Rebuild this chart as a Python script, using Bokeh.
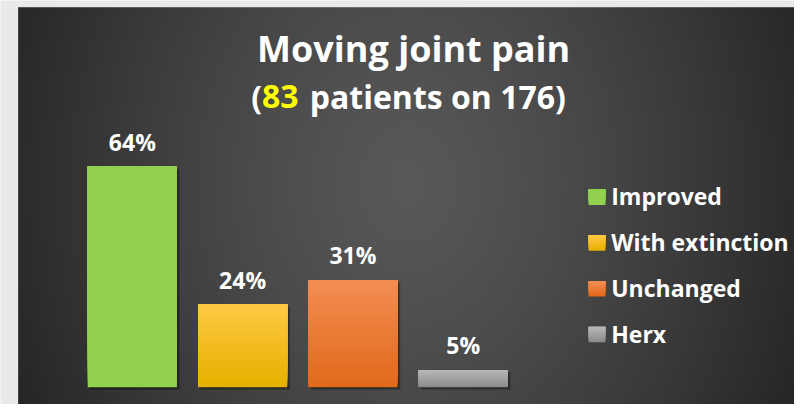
import numpy as np
from bokeh.plotting import figure
from bokeh.models import Range1d
from bokeh.core.properties import value
from bokeh.embed import file_html
from bokeh.resources import INLINE

# ---- data ----
categories = ["Improved", "With extinction", "Unchanged", "Herx"]
percentages = [64, 24, 31, 5]
value_labels = ["64%", "24%", "31%", "5%"]
title_text = "Moving joint pain"
subtitle_open = "("
subtitle_count = "83"
subtitle_rest = "patients on 176)"

# ---- styles ----
top_colors = ["#92d050", "#ffc843", "#f28d52", "#b7b7b7"]
bottom_colors = ["#92d050", "#e6b000", "#e2691a", "#8c8c8c"]
FONT = "Open Sans"

W, H = 794, 404
REF_W, REF_H = 810, 420   # layout designed in reference pixel space
PX_X = 112.5     # ref px per category step
PX_Y = 3.58      # ref px per percent
X0 = 134.5       # ref x of first bar centre
Y0 = 402         # ref y of bar baseline
SC = H / REF_H


def X(px):
    return (px - X0) / PX_X


def Y(py):
    return (Y0 - py) / PX_Y


def hex2rgb(h):
    h = h.lstrip("#")
    return np.array([int(h[i:i + 2], 16) for i in (0, 2, 4)], dtype=float)


def rgb2hex(c):
    c = np.clip(np.round(c), 0, 255).astype(int)
    return "#%02x%02x%02x" % tuple(c)


p = figure(width=W, height=H, output_backend="svg", toolbar_location=None,
           x_range=Range1d(X(0), X(REF_W)), y_range=Range1d(Y(REF_H), Y(0)),
           x_axis_type=None, y_axis_type=None, min_border=0)
p.outline_line_color = None
p.grid.visible = False
p.border_fill_color = "#e9e9e9"
p.background_fill_color = "#e9e9e9"

# ---- dark radial-gradient panel ----
left_ref, top_ref = 18, 7
bw, bh = REF_W - left_ref, REF_H - top_ref
xs = np.arange(bw) + left_ref + 0.5
ys = REF_H - np.arange(bh) - 0.5
gx, gy = np.meshgrid(xs, ys)
t = np.sqrt(((gx - 415) / 440.0) ** 2 + ((gy - 190) / 560.0) ** 2)
t = np.clip(t, 0, 1) ** 1.3
c = (0x58 - (0x58 - 0x25) * t).astype(np.uint8)
img = np.empty((bh, bw), dtype=np.uint32)
view = img.view(dtype=np.uint8).reshape((bh, bw, 4))
view[:, :, 0] = c
view[:, :, 1] = c
view[:, :, 2] = c
view[:, :, 3] = 255
p.image_rgba(image=[img], x=X(left_ref), y=Y(REF_H), dw=bw / PX_X, dh=bh / PX_Y)

# ---- bars ----
idx = np.arange(len(categories), dtype=float)
vals = np.array(percentages, dtype=float)
half = 91 / PX_X / 2

# soft shadow
for off, alpha in ((3, 0.18), (2, 0.25)):
    p.quad(left=idx - half + off / PX_X, right=idx + half + off / PX_X,
           bottom=np.full_like(vals, -off / PX_Y), top=vals - off / PX_Y,
           fill_color="black", fill_alpha=alpha, line_color=None)

# gradient fill: overlapping layers, each from its start up to the bar top
N = 40
for i, v in enumerate(vals):
    fr = np.arange(N) / (N - 1)
    ct, cb = hex2rgb(top_colors[i]), hex2rgb(bottom_colors[i])
    cols = [rgb2hex(cb + (ct - cb) * f) for f in fr]
    bottoms = v * np.arange(N) / N
    p.quad(left=np.full(N, idx[i] - half), right=np.full(N, idx[i] + half),
           bottom=bottoms, top=np.full(N, v), fill_color=cols, line_color=None)

# value labels
p.text(x=idx, y=vals, text=value_labels, y_offset=-26 * SC,
       text_align="center", text_baseline="middle",
       text_font=value(FONT), text_font_style="bold", text_font_size="23px",
       text_color="white")

# ---- title ----
p.text(x=[X(421.5)], y=[Y(50)], text=[title_text], text_align="center",
       text_baseline="middle", text_font=value(FONT), text_font_style="bold",
       text_font_size="36px", text_color="white")

fs = 32
gap = 0.32 * fs / SC
total_w = (0.33 + 1.144 + 8.2) * fs / SC + gap
start = 422 - total_w / 2
count_left = start + 0.33 * fs / SC
count_w = 1.144 * fs / SC
sub_y = Y(100)
p.text(x=[X(count_left)], y=[sub_y], text=[subtitle_open], text_align="right",
       text_baseline="middle", text_font=value(FONT), text_font_style="bold",
       text_font_size=f"{fs}px", text_color="white")
p.text(x=[X(count_left)], y=[sub_y], text=[subtitle_count], text_align="left",
       text_baseline="middle", text_font=value(FONT), text_font_style="bold",
       text_font_size=f"{fs}px", text_color="#ffff00")
p.text(x=[X(count_left + count_w + gap)], y=[sub_y], text=[subtitle_rest], text_align="left",
       text_baseline="middle", text_font=value(FONT), text_font_style="bold",
       text_font_size=f"{fs}px", text_color="white")

# ---- legend ----
leg_x0, leg_sq = 600, 16
leg_y0, leg_step = 204.5, 47.6
M = 10
for i, name in enumerate(categories):
    cy = leg_y0 + i * leg_step
    fr = np.arange(M) / (M - 1)
    ct, cb = hex2rgb(top_colors[i]), hex2rgb(bottom_colors[i])
    cols = [rgb2hex(cb + (ct - cb) * f) for f in fr]
    yb = cy + leg_sq / 2
    bots = [Y(yb - leg_sq * k / M) for k in range(M)]
    p.quad(left=[X(leg_x0)] * M, right=[X(leg_x0 + leg_sq + 1)] * M,
           bottom=bots, top=[Y(yb - leg_sq)] * M, fill_color=cols, line_color=None)
    p.text(x=[X(623)], y=[Y(cy - 1)], text=[name], text_align="left",
           text_baseline="middle", text_font=value(FONT), text_font_style="bold",
           text_font_size="23px", text_color="white")

open("out.html", "w").write(file_html(p, INLINE))
